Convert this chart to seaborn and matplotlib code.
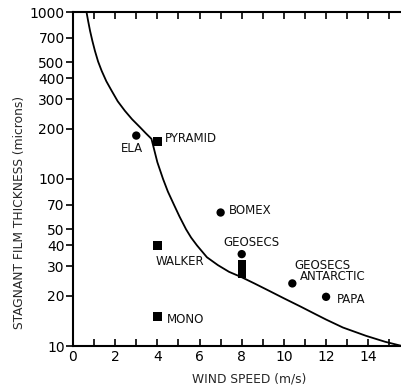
import matplotlib
matplotlib.use("Agg")
import matplotlib.pyplot as plt
import seaborn as sns
import pandas as pd
from matplotlib.ticker import FixedLocator, NullLocator

sns.set_theme(style="ticks")
plt.rcParams['font.family'] = ['DejaVu Sans']

# Curve (model) values
curve_wind = [0.64, 0.72, 0.81, 0.92, 1.04, 1.19, 1.36, 1.58, 1.83, 2.12, 2.46, 2.8,
              3.18, 3.45, 3.72, 4.0, 4.27, 4.5, 4.79, 5.05, 5.36, 5.6, 5.88, 6.35,
              6.87, 7.4, 8.0, 8.6, 9.3, 10.0, 10.8, 11.5, 12.0, 12.8, 13.9, 14.8, 15.6]
curve_thick = [1000, 880, 770, 670, 585, 505, 444, 385, 338, 292, 256, 228,
               204, 188, 174, 126, 100, 84, 70, 59.6, 50, 44.6, 40, 34,
               30.5, 27.8, 25.8, 23.7, 21.4, 19.3, 17.2, 15.5, 14.4, 12.9, 11.5, 10.6, 10]

# Observations
obs_wind = [3.0, 4.0, 4.0, 4.0, 7.0, 8.0, 8.0, 8.0, 8.0, 10.4, 12.0]
obs_thick = [182, 168, 40, 15, 63, 35.5, 31, 29, 27, 23.7, 19.7]
obs_kind = ["circle", "square", "square", "square", "circle", "circle",
            "square", "square", "square", "circle", "circle"]

# Labels
label_text = ["ELA", "PYRAMID", "WALKER", "MONO", "BOMEX", "GEOSECS",
              "GEOSECS", "ANTARCTIC", "PAPA"]
label_x = [2.26, 4.36, 3.92, 4.44, 7.41, 7.12, 10.52, 10.76, 12.5]
label_y = [152, 175, 32.2, 14.5, 64.9, 41.4, 30.4, 25.9, 19.1]

yticks = [10, 20, 30, 40, 50, 70, 100, 200, 300, 400, 500, 700, 1000]
xticks_labeled = [0, 2, 4, 6, 8, 10, 12, 14]
xticks_all = list(range(0, 16))

fig = plt.figure(figsize=(4.02, 3.87), dpi=100)
ax = fig.add_axes([73/402, 41/387, 1 - 73/402, (346-12)/387])

curve = pd.DataFrame({"wind": curve_wind, "thick": curve_thick})
obs = pd.DataFrame({"wind": obs_wind, "thick": obs_thick, "kind": obs_kind})

sns.lineplot(data=curve, x="wind", y="thick", color="black", lw=1.3, ax=ax, sort=False)
sns.scatterplot(data=obs, x="wind", y="thick", style="kind",
                markers={"circle": "o", "square": "s"}, color="black",
                s=36, edgecolor="none", legend=False, ax=ax, zorder=3)

for t, x, y in zip(label_text, label_x, label_y):
    ax.text(x, y, t, fontsize=8.5, ha="left", va="center", color="#111111")

ax.set_yscale("log")
ax.set_xlim(0, 15.6)
ax.set_ylim(10, 1000)
ax.yaxis.set_major_locator(FixedLocator(yticks))
ax.yaxis.set_minor_locator(NullLocator())
ax.set_yticklabels([str(v) for v in yticks])
ax.set_xticks(xticks_all)
ax.set_xticklabels([str(v) if v in xticks_labeled else "" for v in xticks_all])

ax.tick_params(axis="y", direction="out", length=5, width=1.2, labelsize=10, colors="black", pad=1)
ax.tick_params(axis="x", direction="in", length=5, width=1.2, labelsize=10, colors="black",
               top=True, bottom=True, pad=3)

for s in ["left", "bottom", "top"]:
    ax.spines[s].set_linewidth(1.5)
    ax.spines[s].set_color("black")
ax.spines["right"].set_visible(False)

ax.set_xlabel("WIND SPEED (m/s)", fontsize=8.8, va="center")
ax.set_ylabel("STAGNANT FILM THICKNESS (microns)", fontsize=8.8)
ax.xaxis.set_label_coords(0.535, -0.098)
ax.yaxis.set_label_coords(-0.142, 0.40)

fig.savefig("out.png", dpi=100)
